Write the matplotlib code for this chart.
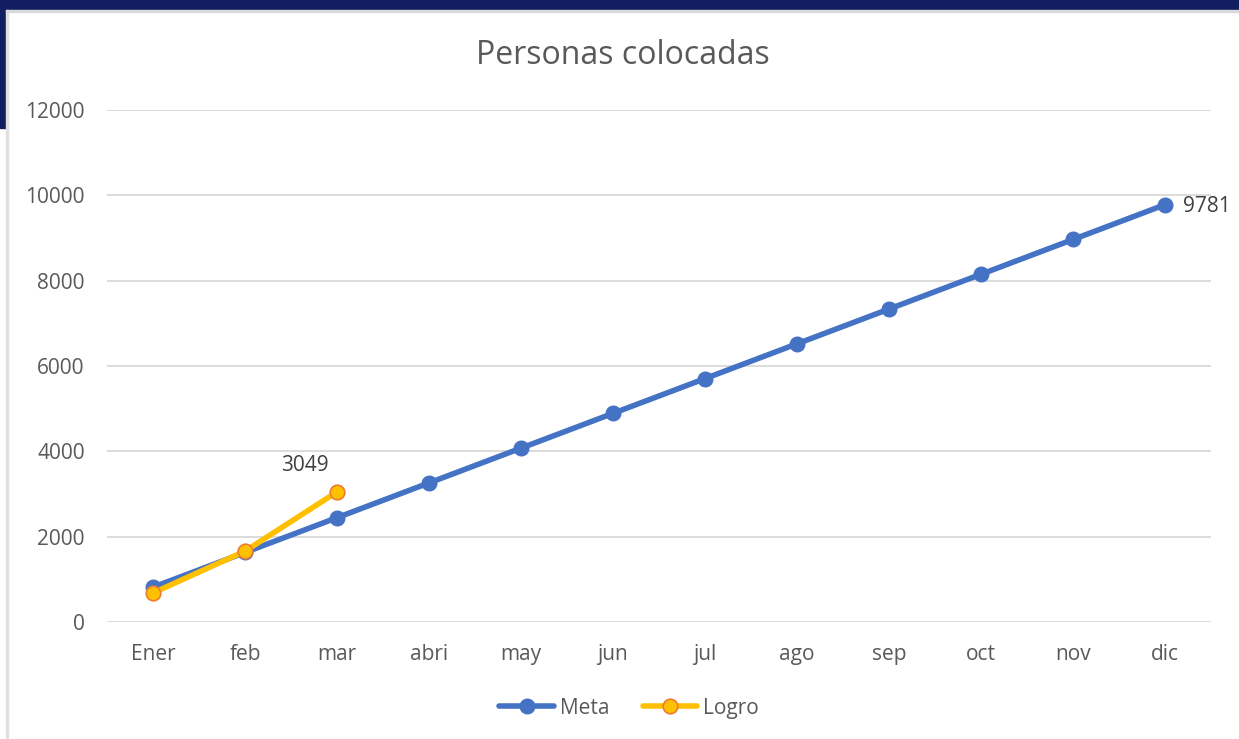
import numpy as np
import matplotlib.pyplot as plt
from matplotlib.patches import Rectangle

# Data
meses = ['Ener', 'feb', 'mar', 'abri', 'may', 'jun', 'jul', 'ago', 'sep', 'oct', 'nov', 'dic']
meta = [815, 1630, 2445, 3260, 4075, 4890, 5705, 6520, 7335, 8150, 8965, 9781]
logro = [680, 1660, 3049]

plt.rcParams['font.family'] = ['Open Sans', 'DejaVu Sans']
gris = '#595959'

fig = plt.figure(figsize=(12.39, 7.39), dpi=100)

# dark frame pieces of the slide behind the chart
fig.patches.append(Rectangle((0, 1 - 10 / 739), 1, 10 / 739, transform=fig.transFigure,
                             color='#111e5f', zorder=0))
fig.patches.append(Rectangle((0, 1 - 128 / 739), 6 / 1239, 128 / 739, transform=fig.transFigure,
                             color='#111e5f', zorder=0))
fig.patches.append(Rectangle((6 / 1239, 0), 1.5 / 1239, 1 - 10 / 739, transform=fig.transFigure,
                             color='#e0e0e0', zorder=0))
fig.patches.append(Rectangle((6 / 1239, 1 - 12 / 739), 1 - 6 / 1239, 2 / 739, transform=fig.transFigure,
                             color='#d9d9d9', zorder=0))

ax = fig.add_axes([107 / 1239, 1 - 622 / 739, 1104 / 1239, 512 / 739])

x = np.arange(len(meses))
ax.plot(x, meta, color='#4472c4', lw=4, marker='o', ms=10.5, mfc='#4472c4', mec='#4472c4',
        label='Meta', solid_capstyle='round', zorder=3)
ax.plot(x[:len(logro)], logro, color='#ffc000', lw=4, marker='o', ms=10.5, mfc='#ffc000',
        mec='#ed7d31', mew=1.2, label='Logro', solid_capstyle='round', zorder=4)

ax.annotate(str(meta[-1]), (x[-1], meta[-1]), xytext=(13, -1), textcoords='offset points',
            ha='left', va='center', fontsize=15, color='#404040')
ax.annotate(str(logro[-1]), (x[len(logro) - 1], logro[-1]), xytext=(-23, 19), textcoords='offset points',
            ha='center', va='center', fontsize=15, color='#404040')

ax.set_xlim(-0.5, len(meses) - 0.5)
ax.set_ylim(0, 12000)
ax.set_yticks(np.arange(0, 12001, 2000))
ax.set_xticks(x)
ax.set_xticklabels(meses)
ax.tick_params(axis='both', length=0, labelsize=15, colors=gris)
ax.tick_params(axis='x', pad=16)
ax.tick_params(axis='y', pad=16)
ax.grid(axis='y', color='#d9d9d9', lw=1.3)
ax.set_axisbelow(True)
for s in ax.spines.values():
    s.set_visible(False)

fig.text(623 / 1239, 1 - 55 / 739, 'Personas colocadas', ha='center', va='center',
         fontsize=23, color=gris)

ax.legend(loc='center', bbox_to_anchor=(0.473, -0.168), ncol=2, frameon=False,
          fontsize=15, labelcolor=gris, handlelength=2.6, columnspacing=1.6, handletextpad=0.3)

fig.savefig('out.png', dpi=100)
